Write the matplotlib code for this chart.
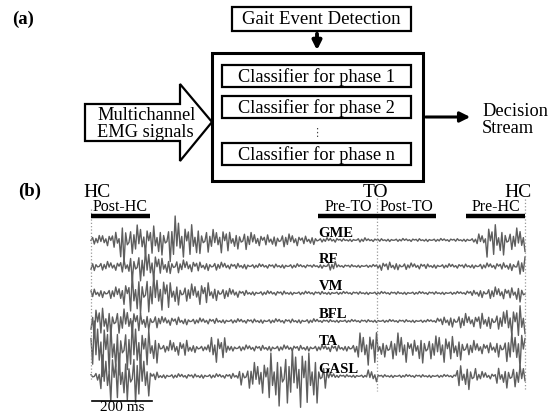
import matplotlib
matplotlib.use("Agg")
import matplotlib.pyplot as plt
import numpy as np
from matplotlib.patches import Rectangle, Polygon

plt.rcParams['font.family'] = ['Liberation Serif', 'DejaVu Sans']

# ---- block diagram text
classifier_labels = ["Classifier for phase 1", "Classifier for phase 2", "Classifier for phase n"]

# ---- gait events / phases (ms)
event_names = ["HC", "TO", "HC"]
event_ms = [0, 970, 1470]
phase_names = ["Post-HC", "Pre-TO", "Post-TO", "Pre-HC"]
phase_start = [0, 770, 970, 1270]
phase_len = 200

# ---- EMG channels: amplitude envelope per 1/44 of the cycle
channels = ["GME", "RF", "VM", "BFL", "TA", "GASL"]
gme = [3, 4, 6, 16, 10, 10, 11, 10, 16, 12, 12, 9, 7, 9, 6, 7, 5, 4, 4, 5, 4, 3,
       3, 1.5, 1.5, 1, 1, 1.5, 1, 1, 1, 1, 1, 1, 1, 1, 1, 1, 1.5, 4, 12, 10, 7, 8]
rf = [3, 3, 3, 5, 10, 11, 10, 6, 5, 4, 4, 3, 3, 2.5, 2, 2, 1.5, 1.5, 1.5, 1.5, 1.5, 1.2,
      1, 1.5, 3, 1, 1, 1, 1, 3, 3, 2.5, 2, 2, 1.5, 1.5, 1.5, 1.5, 1.5, 2, 2, 2.5, 3, 6]
vm = [3, 3, 4, 8, 15, 14, 12, 12, 8, 6, 6, 8, 5, 4, 3, 2, 1.5, 1.5, 1.5, 1.5, 1.2, 1.2,
      1.2, 1.2, 1, 1, 1, 1, 1, 1, 1, 1, 1, 1, 1, 1, 1, 1, 2, 3, 4, 4, 4, 6]
bfl = [12, 10, 9, 8, 8, 6, 5, 3, 3, 2.5, 2, 2, 2, 1.5, 1.5, 1.5, 1.5, 1.5, 1.5, 1.5, 1.5, 1.5,
       1.5, 1, 1, 1, 1, 1, 1, 1, 1, 1, 1, 1, 1, 3, 4, 5, 4, 6, 5, 6, 10, 12]
ta = [18, 20, 18, 16, 18, 14, 10, 3, 5, 6, 3, 2, 10, 8, 2, 2, 2, 2, 2, 2, 2, 2,
      2, 2, 2.5, 2, 3, 10, 12, 6, 8, 10, 6, 10, 8, 10, 9, 8, 5, 4, 4, 6, 10, 14]
gasl = [3, 14, 18, 16, 20, 14, 3, 1.5, 1.5, 1.5, 1.5, 1.5, 1.5, 1.5, 2, 6, 9, 12, 18, 20, 18, 22,
        18, 9, 2, 1, 1, 1, 4, 1, 1, 1, 1, 1, 1, 1, 1, 8, 9, 3, 2, 6, 8, 7]
envelopes = [gme, rf, vm, bfl, ta, gasl]
# irregular EMG waveform template, cycled along each trace
wiggle = [0.1, -0.55, 0.9, -0.35, 0.6, -1.0, 0.25, -0.7, 0.45, -0.2, 0.95, -0.6,
          0.05, -0.45, 0.8, -0.85, 0.35, -0.15, 0.7, -0.5, 1.0, -0.3, 0.2]

fig = plt.figure(figsize=(5.53, 4.14), dpi=100)
ax = fig.add_axes([0, 0, 1, 1])
ax.set_xlim(0, 553)
ax.set_ylim(414, 0)
ax.axis("off")

# (a) block diagram
ax.text(12, 19, "(a)", fontsize=13.5, fontweight="bold", va="center")
ax.add_patch(Rectangle((232, 8), 179, 24, fill=False, lw=1.6))
ax.text(321.5, 20, "Gait Event Detection", fontsize=13.5, ha="center", va="center")
ax.annotate("", xy=(317, 54), xytext=(317, 32),
            arrowprops=dict(arrowstyle="-|>", lw=2.8, color="k", mutation_scale=13))
ax.add_patch(Rectangle((212, 54), 211, 128, fill=False, lw=2.2))
for lab, y0 in zip(classifier_labels, [66, 97, 144]):
    ax.add_patch(Rectangle((222, y0), 189, 22, fill=False, lw=1.6))
    ax.text(316.5, y0 + 11.5, lab, fontsize=13.2, ha="center", va="center")
ax.text(316.5, 133, "\u22ee", fontsize=8, ha="center", va="center",
        family=["DejaVu Sans"], color="#444444")
ax.add_patch(Polygon([(85, 105), (180, 105), (180, 85), (212, 123), (180, 162),
                      (180, 142), (85, 142)], closed=True, fill=False, lw=1.6))
ax.text(97, 116, "Multichannel", fontsize=13.2, va="center")
ax.text(97, 133, "EMG signals", fontsize=13.2, va="center")
ax.annotate("", xy=(473, 118), xytext=(423, 118),
            arrowprops=dict(arrowstyle="-|>", lw=2.2, color="k", mutation_scale=15))
ax.text(482, 112, "Decision", fontsize=13.2, va="center")
ax.text(482, 129, "Stream", fontsize=13.2, va="center")
ax.text(18, 191, "(b)", fontsize=13.5, fontweight="bold", va="center")

# (b) EMG traces, x in ms, y in pixel rows
ax2 = fig.add_axes([91 / 553, 0, 434 / 553, 229 / 414])
ax2.set_xlim(0, 1470)
ax2.set_ylim(414, 185)
ax2.axis("off")

baselines = [241, 267, 294, 322, 349, 377]
gain = 1.5
nseg = len(gme)
per = 6
t = np.linspace(0, event_ms[-1], nseg * per)
for i, (name, env, base) in enumerate(zip(channels, envelopes, baselines)):
    amp = np.repeat(env, per) * gain
    w = np.resize(np.roll(wiggle, 5 * i), nseg * per)
    ax2.plot(t, base + amp * w, color="#5e5e5e", lw=1.0, clip_on=False)
    ax2.text(770, base - 7, name, fontsize=10.5, fontweight="bold", va="center",
             ha="left", clip_on=False)

# event lines and labels
ev_top = [210, 199, 200]
ev_bot = [382, 392, 392]
ev_txt_x = [20, 963, 1447]
for name, ms, tx, y0, y1 in zip(event_names, event_ms, ev_txt_x, ev_top, ev_bot):
    ax2.plot([ms, ms], [y0, y1], color="#999999", lw=0.9, ls=":", clip_on=False)
    ax2.text(tx, 193, name, fontsize=14, ha="center", va="center")

for name, s in zip(phase_names, phase_start):
    ax2.plot([s, s + phase_len], [216.5, 216.5], color="k", lw=3.2,
             solid_capstyle="butt", clip_on=False)
    ax2.text(s + phase_len / 2, 207, name, fontsize=11.5, ha="center", va="center")

# scale bar
ax2.plot([5, 205], [402, 402], color="k", lw=1.2, clip_on=False)
ax2.text(105, 407.5, "200 ms", fontsize=11, ha="center", va="center")

fig.savefig("out.png", dpi=100)
